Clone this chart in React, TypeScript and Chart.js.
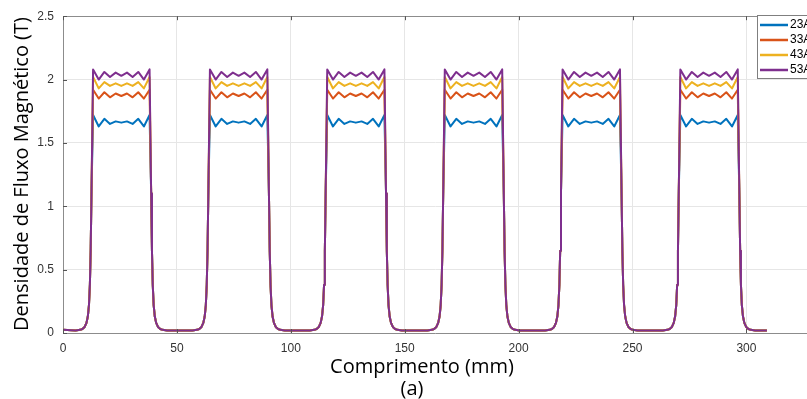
import { useEffect, useRef } from 'react';
import { Chart, registerables } from 'chart.js';

Chart.register(...registerables);

// ---- data ----
const seriesNames = ['23A', '33A', '43A', '53A'];
const seriesColors = ['#0072BD', '#D95319', '#EDB120', '#7E2F8E'];
const xTicks = [0, 50, 100, 150, 200, 250, 300];
const yTicks = [0, 0.5, 1, 1.5, 2, 2.5];

// mid-height positions (mm) of rising and falling edges of each pole pulse
const pulseStarts = [12.5, 63.8, 115.3, 166.9, 218.6, 270.3];
const pulseEnds = [38.7, 90.4, 141.8, 193.5, 245.2, 296.9];

// edge shape, shared by all series: distance outside the edge (mm) and flux (T)
const edgeOffsets = [7, 5, 4, 3, 2.2, 1.6, 1.1, 0.7, 0.35, 0];
const edgeValues = [0.02, 0.025, 0.032, 0.048, 0.08, 0.13, 0.22, 0.38, 0.65, 1.1];

// flat-top ripple of each series (T), left corner to right corner
const top23 = [1.72, 1.63, 1.69, 1.65, 1.67, 1.66, 1.67, 1.65, 1.69, 1.63, 1.72];
const top33 = [1.92, 1.85, 1.9, 1.86, 1.89, 1.87, 1.89, 1.86, 1.9, 1.85, 1.92];
const top43 = [2.02, 1.93, 1.98, 1.95, 1.97, 1.95, 1.97, 1.95, 1.98, 1.93, 2.02];
const top53 = [2.08, 2.0, 2.06, 2.02, 2.055, 2.03, 2.055, 2.02, 2.06, 2.0, 2.08];
const seriesTops = [top23, top33, top43, top53];

const startX = 0;
const startValue = 0.025;
const endX = 309;
const endValue = 0.02;

function buildSeries(tops: number[]) {
  const pts: { x: number; y: number }[] = [{ x: startX, y: startValue }];
  for (let k = 0; k < pulseStarts.length; k++) {
    const s = pulseStarts[k];
    const e = pulseEnds[k];
    for (let i = 0; i < edgeOffsets.length; i++) pts.push({ x: s - edgeOffsets[i], y: edgeValues[i] });
    const a = s + 0.7;
    const b = e - 0.7;
    for (let j = 0; j < tops.length; j++) pts.push({ x: a + ((b - a) * j) / (tops.length - 1), y: tops[j] });
    for (let i = edgeOffsets.length - 1; i >= 0; i--) pts.push({ x: e + edgeOffsets[i], y: edgeValues[i] });
  }
  pts.push({ x: endX, y: endValue });
  return pts;
}

const AXIS = '#8c8c8c';
const TICKTXT = '#333333';

const decor = {
  id: 'decor',
  afterDraw(chart: any) {
    const { ctx, chartArea } = chart;
    const { left, right, top, bottom } = chartArea;
    const xs = chart.scales.x;
    const ys = chart.scales.y;
    ctx.save();
    // top border
    ctx.strokeStyle = AXIS;
    ctx.lineWidth = 1;
    ctx.beginPath();
    ctx.moveTo(left, Math.round(top) + 0.5);
    ctx.lineTo(right, Math.round(top) + 0.5);
    ctx.stroke();
    // inward tick marks
    ctx.strokeStyle = '#555';
    ctx.beginPath();
    for (const v of xTicks) {
      const px = Math.round(xs.getPixelForValue(v)) + 0.5;
      ctx.moveTo(px, bottom);
      ctx.lineTo(px, bottom - 4);
      ctx.moveTo(px, top);
      ctx.lineTo(px, top + 4);
    }
    for (const v of yTicks) {
      const py = Math.round(ys.getPixelForValue(v)) + 0.5;
      ctx.moveTo(left, py);
      ctx.lineTo(left + 4, py);
    }
    ctx.stroke();

    // legend
    const lx = 757.5;
    const ly = 15.5;
    ctx.fillStyle = '#fff';
    ctx.fillRect(lx, ly, 80, 63);
    ctx.strokeStyle = '#7f7f7f';
    ctx.strokeRect(lx, ly, 80, 63);
    ctx.font = '12px "Liberation Sans", Arial, sans-serif';
    ctx.textBaseline = 'middle';
    ctx.textAlign = 'left';
    seriesNames.forEach((n, i) => {
      const y = 25 + i * 15;
      ctx.strokeStyle = seriesColors[i];
      ctx.lineWidth = 2.5;
      ctx.beginPath();
      ctx.moveTo(760, y);
      ctx.lineTo(788, y);
      ctx.stroke();
      ctx.fillStyle = '#000';
      ctx.fillText(n, 790, y);
    });

    // axis titles
    ctx.fillStyle = '#000';
    ctx.font = '20px "Open Sans", sans-serif';
    ctx.textAlign = 'center';
    ctx.textBaseline = 'middle';
    ctx.fillText('Comprimento (mm)', 422, 367);
    ctx.fillText('(a)', 412, 389);
    ctx.translate(22, 174);
    ctx.rotate(-Math.PI / 2);
    ctx.fillText('Densidade de Fluxo Magnético (T)', 0, 0);
    ctx.restore();
  },
};

export default function App() {
  const ref = useRef<HTMLCanvasElement>(null);
  useEffect(() => {
    const chart = new Chart(ref.current as HTMLCanvasElement, {
      type: 'line',
      data: {
        datasets: seriesNames.map((n, i) => ({
          label: n,
          data: buildSeries(seriesTops[i]),
          borderColor: seriesColors[i],
          backgroundColor: seriesColors[i],
          borderWidth: 2,
          pointRadius: 0,
          tension: 0,
          fill: false,
          borderJoinStyle: 'round' as const,
          order: seriesNames.length - i,
        })),
      },
      options: {
        animation: false,
        responsive: false,
        devicePixelRatio: 1,
        layout: { padding: { top: 15, right: 0, left: 0, bottom: 0 } },
        plugins: { legend: { display: false }, tooltip: { enabled: false } },
        scales: {
          x: {
            type: 'linear',
            min: 0,
            max: 326.6,
            afterBuildTicks: (s: any) => {
              s.ticks = xTicks.map((v) => ({ value: v }));
            },
            afterFit: (s: any) => {
              s.height = 66;
            },
            grid: { color: '#e6e6e6', drawTicks: false },
            border: { display: true, color: AXIS },
            ticks: {
              padding: 8,
              maxRotation: 0,
              color: TICKTXT,
              callback: (v: any) => String(v),
              font: { family: '"Liberation Sans", Arial, sans-serif', size: 12 },
            },
          },
          y: {
            type: 'linear',
            min: 0,
            max: 2.5,
            afterBuildTicks: (s: any) => {
              s.ticks = yTicks.map((v) => ({ value: v }));
            },
            afterFit: (s: any) => {
              s.width = 63;
            },
            grid: { color: '#e6e6e6', drawTicks: false },
            border: { display: true, color: AXIS },
            ticks: {
              padding: 9,
              color: TICKTXT,
              callback: (v: any) => String(v),
              font: { family: '"Liberation Sans", Arial, sans-serif', size: 12 },
            },
          },
        },
      },
      plugins: [decor],
    });
    return () => chart.destroy();
  }, []);
  return (
    <div style={{ position: 'fixed', left: 0, top: 0, width: 807, height: 399, background: '#fff', overflow: 'hidden' }}>
      <canvas ref={ref} width={807} height={399} style={{ width: 807, height: 399, display: 'block' }} />
    </div>
  );
}
